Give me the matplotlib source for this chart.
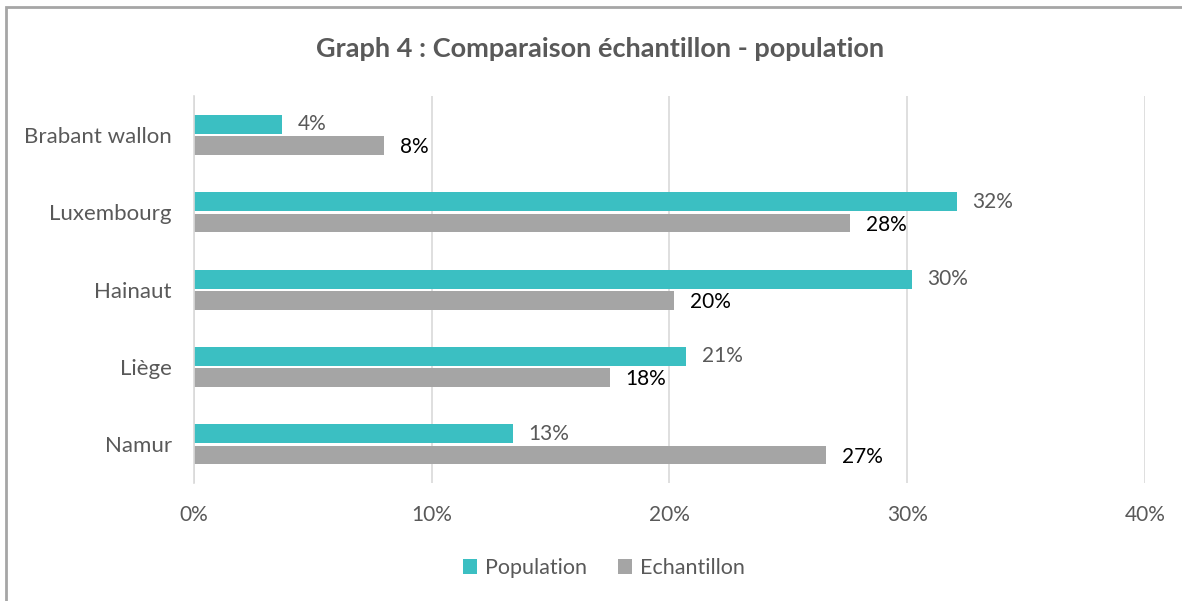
import numpy as np
import matplotlib.pyplot as plt
from matplotlib.patches import Rectangle

plt.rcParams['font.family'] = ['Lato', 'DejaVu Sans']

provinces = ['Brabant wallon', 'Luxembourg', 'Hainaut', 'Liège', 'Namur']
population = [0.037, 0.321, 0.302, 0.207, 0.134]
echantillon = [0.080, 0.276, 0.202, 0.175, 0.266]

teal = '#3BBFC2'
grey = '#A5A5A5'
text_grey = '#595959'

fig = plt.figure(figsize=(11.82, 6.01), dpi=100)
ax = fig.add_axes([0.1641, 0.1963, 0.8046, 0.6433])

# frame around the chart (only top and left edges are visible)
fig.patches.append(Rectangle((0.005, -0.05), 1.2, 1.038, transform=fig.transFigure,
                             fill=False, edgecolor='#A6A6A6', linewidth=2))

y = np.arange(len(provinces))
h = 0.245
gap = 0.03
bars_pop = ax.barh(y - h / 2 - gap / 2, population, height=h, color=teal, label='Population')
bars_ech = ax.barh(y + h / 2 + gap / 2, echantillon, height=h, color=grey, label='Echantillon')

for b, v in zip(bars_pop, population):
    ax.text(b.get_width() + 0.0065, b.get_y() + b.get_height() / 2, f'{v:.0%}',
            va='center', ha='left', fontsize=15, color=text_grey)
for b, v in zip(bars_ech, echantillon):
    ax.text(b.get_width() + 0.0065, b.get_y() + b.get_height() / 2 + 0.02, f'{v:.0%}',
            va='center', ha='left', fontsize=15, color='black')

ax.set_xlim(0, 0.40)
ax.set_ylim(len(provinces) - 0.5, -0.5)
ax.set_xticks([0, 0.1, 0.2, 0.3, 0.4])
ax.set_xticklabels(['0%', '10%', '20%', '30%', '40%'])
ax.set_yticks(y)
ax.set_yticklabels(provinces)
ax.tick_params(axis='both', length=0, colors=text_grey)
ax.tick_params(axis='x', pad=16, labelsize=15)
ax.tick_params(axis='y', pad=16, labelsize=16)
ax.grid(axis='x', color='#D9D9D9', linewidth=1.2)
ax.set_axisbelow(True)
for s in ['top', 'right', 'bottom']:
    ax.spines[s].set_visible(False)
ax.spines['left'].set_color('#D9D9D9')
ax.spines['left'].set_linewidth(1.2)

fig.text(0.508, 0.919, 'Graph 4 : Comparaison échantillon - population',
         ha='center', va='center', fontsize=19.5, fontweight='bold', color=text_grey)

fig.legend(handles=[bars_pop, bars_ech], loc='center', bbox_to_anchor=(0.511, 0.055),
           ncol=2, frameon=False, fontsize=15.5, labelcolor=text_grey,
           handlelength=0.65, handleheight=0.65, handletextpad=0.4, columnspacing=1.4)

fig.savefig('out.png', dpi=100)
